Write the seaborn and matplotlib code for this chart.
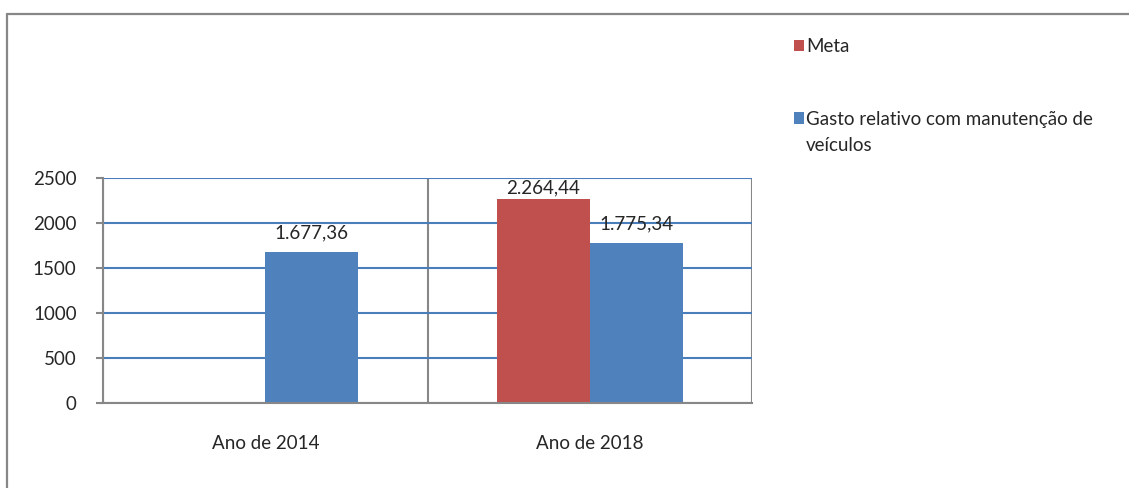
import pandas as pd
import seaborn as sns
import matplotlib.pyplot as plt
from matplotlib.lines import Line2D

anos = ['Ano de 2014', 'Ano de 2018']
series = ['Meta', 'Gasto relativo com manutenção de veículos']
meta = [None, 2264.44]
gasto = [1677.36, 1775.34]
yticks = [0, 500, 1000, 1500, 2000, 2500]

rows = []
for i, ano in enumerate(anos):
    if meta[i] is not None:
        rows.append((ano, series[0], meta[i]))
    rows.append((ano, series[1], gasto[i]))
df = pd.DataFrame(rows, columns=['ano', 'serie', 'valor'])

def br(v):
    s = f"{v:,.2f}"
    return s.replace(',', 'X').replace('.', ',').replace('X', '.')

sns.set_style('white')
plt.rcParams['font.family'] = ['Lato', 'DejaVu Sans']
fs = 13.5
plt.rcParams['font.size'] = fs

cores = ['#C0504D', '#4F81BD']
cinza = '#878787'

fig = plt.figure(figsize=(11.29, 4.88), dpi=100)
ax = fig.add_axes([103/1129, 1-403/488, 649/1129, 225/488])

sns.barplot(data=df, x='ano', y='valor', hue='serie', order=anos, hue_order=series,
            palette=cores, width=186/325, gap=0, linewidth=0, saturation=1,
            legend=False, ax=ax)

ax.set_xlim(-0.5, 1.5)
ax.set_ylim(0, 2500)
ax.set_yticks(yticks)
ax.set_xlabel('')
ax.set_ylabel('')
ax.set_xticks([-0.5, 0.5, 1.5], minor=True)
ax.tick_params(axis='x', which='major', length=0, pad=23, labelsize=fs)
ax.tick_params(axis='x', which='minor', length=6, width=1.5, color=cinza, direction='out')
ax.tick_params(axis='y', length=5, width=1.5, color=cinza, direction='out', pad=14,
               labelsize=fs, left=True)
ax.set_axisbelow(True)
ax.grid(axis='y', which='major', color='#4A7EBB', linewidth=1.5)
ax.grid(axis='x', which='minor', color=cinza, linewidth=1.5)
ax.grid(axis='x', which='major', visible=False)
for side in ['top', 'right']:
    ax.spines[side].set_visible(False)
for side in ['left', 'bottom']:
    ax.spines[side].set_color(cinza)
    ax.spines[side].set_linewidth(1.5)

# rótulos de dados
ax.bar_label(ax.containers[0], labels=[br(v) for v in meta if v is not None],
             padding=2, fontsize=fs)
ax.bar_label(ax.containers[1], labels=[br(v) for v in gasto], padding=8, fontsize=fs)

# legenda (a segunda linha do rótulo vai como texto à parte, alinhada à primeira)
handles = [c.patches[0] for c in ax.containers]
leg = fig.legend(handles, ['Meta', 'Gasto relativo com manutenção de'],
                 loc='upper left', bbox_to_anchor=(794/1129, 1-38/488), frameon=False,
                 handlelength=0.55, handleheight=0.55, handletextpad=0.1,
                 labelspacing=2.97, fontsize=fs, borderaxespad=0, borderpad=0)
fig.canvas.draw()
tb = leg.get_texts()[1].get_window_extent()
fig.text(tb.x0 / fig.bbox.width, (tb.y0 - 26) / fig.bbox.height, 'veículos',
         fontsize=fs, ha='left', va='bottom')

# moldura do gráfico
fig.add_artist(Line2D([7/1129, 7/1129], [0, 1-14/488], color=cinza, linewidth=1.6,
                      transform=fig.transFigure))
fig.add_artist(Line2D([7/1129, 1], [1-14/488, 1-14/488], color=cinza, linewidth=1.6,
                      transform=fig.transFigure))

fig.savefig('out.png', dpi=100)
